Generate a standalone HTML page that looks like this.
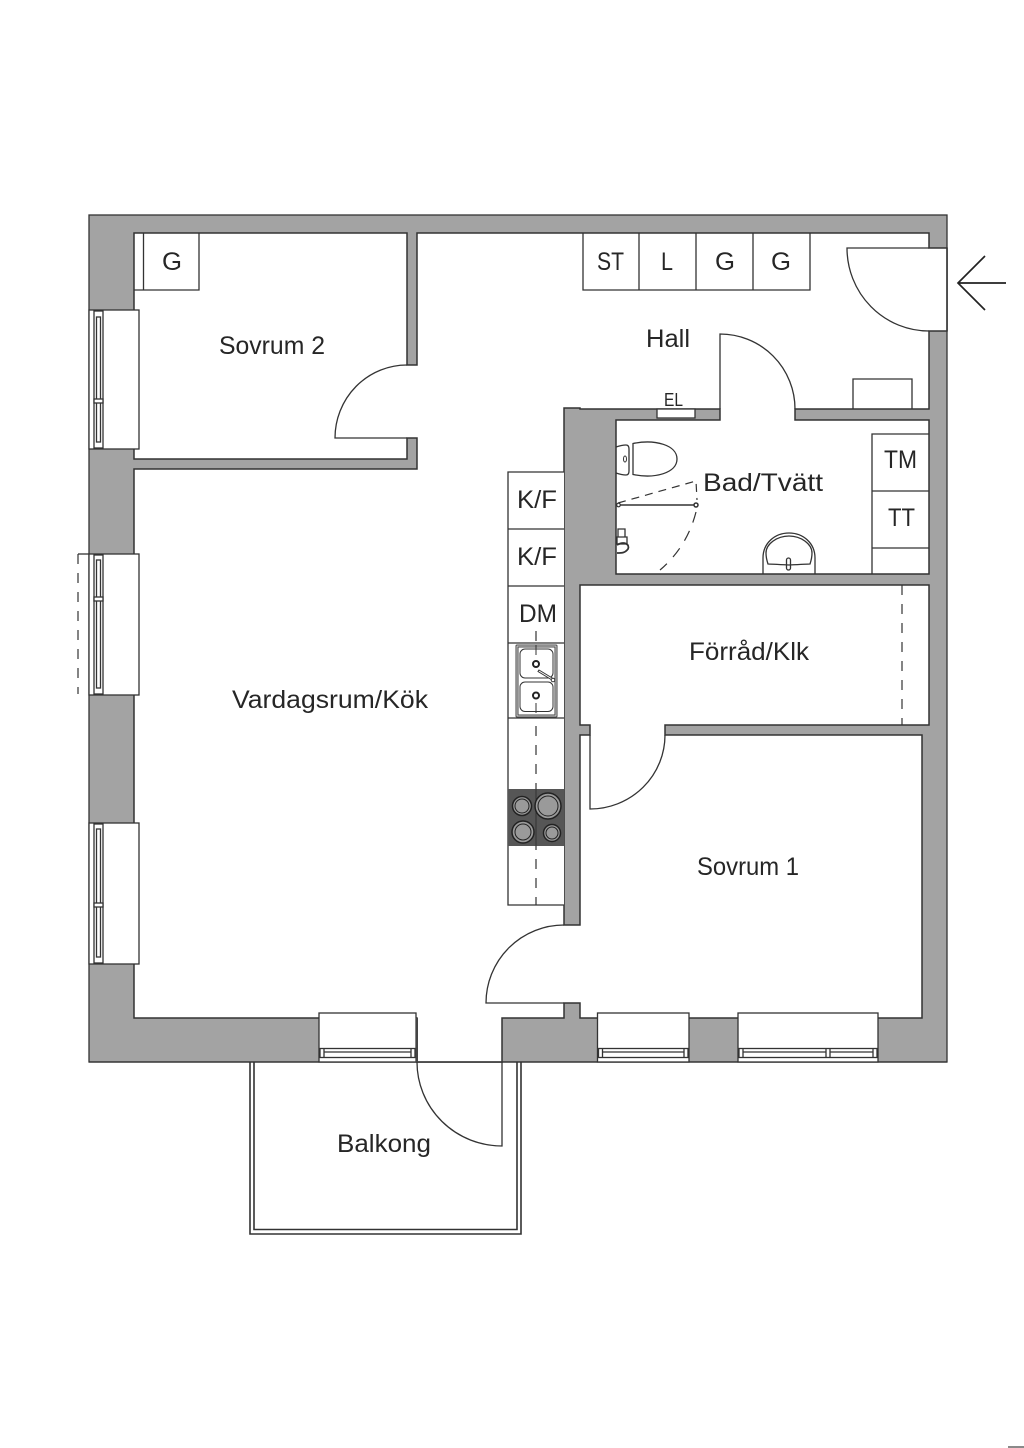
<!DOCTYPE html>
<html lang="sv">
<head>
<meta charset="utf-8">
<title>Planritning</title>
<style>
html,body{margin:0;padding:0;background:#fff}
svg{display:block;position:absolute;left:0;top:0}
text{font-family:"Liberation Sans",sans-serif;font-size:25px;fill:#262626}
.l{fill:none;stroke:#333;stroke-width:1.3}
.w{fill:#fff;stroke:#333;stroke-width:1.3}
.d{fill:none;stroke:#333;stroke-width:1.2;stroke-dasharray:10 9}
</style>
</head>
<body>
<svg width="1024" height="1448" viewBox="0 0 1024 1448" xmlns="http://www.w3.org/2000/svg">
<rect width="1024" height="1448" fill="#fff"/>

<!-- Balcony -->
<path class="l" style="stroke-width:1.6" d="M250,1062V1234H521V1062M254,1062V1229.500H517V1062"/>

<!-- Walls -->
<rect x="89" y="215" width="858" height="847" fill="#a3a3a3" stroke="#333" stroke-width="1.300"/>

<!-- Rooms (single connected floor region) -->
<path fill="#fff" stroke="#333" stroke-width="1.500" stroke-linejoin="miter" d="M417,233H929V248H947V331H929V409H795V420H929V574H616V420H720V409H580V408H564V925H580V735H590V725H580V585H929V725H665V735H922V1018H580V1003H564V1018H502V1062H417V1018H134V469H417V438H407V459H134V233H407V365H417Z"/>
<line x1="89" y1="1062" x2="947" y2="1062" stroke="#333" stroke-width="1.300"/>

<!-- Left windows -->
<g>
<rect class="w" x="89" y="310" width="50" height="139"/>
<rect class="l" x="94" y="311" width="9" height="137"/>
<rect class="l" x="96.500" y="317" width="4" height="125"/>
<rect class="w" x="94" y="399" width="9" height="4"/>
<rect class="w" x="89" y="554" width="50" height="141"/>
<rect class="l" x="94" y="555" width="9" height="139"/>
<rect class="l" x="96.500" y="560" width="4" height="128"/>
<rect class="w" x="94" y="597" width="9" height="4"/>
<rect class="w" x="89" y="823" width="50" height="141"/>
<rect class="l" x="94" y="824" width="9" height="139"/>
<rect class="l" x="96.500" y="829" width="4" height="128"/>
<rect class="w" x="94" y="903" width="9" height="4"/>
</g>
<path class="d" d="M78,554V694"/>
<path class="l" d="M78,554H89"/>

<!-- Bottom windows -->
<g>
<rect class="w" x="319" y="1013" width="97" height="49"/>
<rect class="l" x="320" y="1048.500" width="95" height="9"/>
<path class="l" d="M324,1048.500V1057.500M411,1048.500V1057.500M324,1052H411"/>
<rect x="415.500" y="1018" width="2.500" height="44" fill="#444"/>
<rect class="w" x="597.500" y="1013" width="91.500" height="49"/>
<rect class="l" x="598.500" y="1048.500" width="89.500" height="9"/>
<path class="l" d="M602.500,1048.500V1057.500M684,1048.500V1057.500M602.500,1052H684"/>
<rect class="w" x="738" y="1013" width="140" height="49"/>
<rect class="l" x="739" y="1048.500" width="138" height="9"/>
<path class="l" d="M743,1048.500V1057.500M873,1048.500V1057.500M826,1048.500V1057.500M830,1048.500V1057.500M743,1052H826M830,1052H873"/>
</g>

<!-- Doors -->
<path class="l" d="M407,365A72,73 0 0 0 335,438H407"/>
<path class="l" d="M720,409V334A75,75 0 0 1 795,409"/>
<path class="l" d="M929,331A82,83 0 0 1 847,248H929"/>
<path class="l" d="M947,248V331"/>
<path class="l" d="M590,735V809A75,74 0 0 0 665,735"/>
<path class="l" d="M564,925A78,78 0 0 0 486,1003H564"/>
<path class="l" d="M417,1062A85,84 0 0 0 502,1146V1062"/>

<!-- Entry arrow -->
<path fill="none" stroke="#222" stroke-width="1.700" d="M985,256L958,283L985,310M958,283H1006"/>

<!-- Sovrum 2 wardrobe -->
<path class="l" d="M143.500,233V290M134,290H199V233"/>

<!-- Hall wardrobes and box -->
<path class="l" d="M583,233V290H810V233M639,233V290M696,233V290M753,233V290"/>
<path class="l" d="M853,409V379H912V409"/>

<!-- EL -->
<rect class="w" x="657" y="409" width="38" height="9"/>

<!-- Bathroom fittings -->
<path class="l" d="M872,574V434H929M872,491H929M872,548H929"/>
<path class="l" d="M616,447Q622,445 626,445Q629,445 629,449V471Q629,475 626,475Q622,475 616,473"/>
<path class="l" d="M633,443.500C655,439 677,445 677,459C677,473 655,479 633,474.500Z"/>
<ellipse cx="625" cy="459" rx="1.500" ry="3" fill="none" stroke="#333" stroke-width="1"/>
<line x1="618" y1="505" x2="696" y2="505" stroke="#333" stroke-width="1.600"/>
<circle cx="618.500" cy="505" r="1.800" fill="#fff" stroke="#333" stroke-width="1.200"/>
<circle cx="696" cy="505" r="2" fill="#fff" stroke="#333" stroke-width="1.500"/>
<path fill="none" stroke="#333" stroke-width="1.200" stroke-dasharray="8 6" d="M618,503L696,481L697,500"/>
<path fill="none" stroke="#333" stroke-width="1.200" stroke-dasharray="11 9" d="M696,512Q687,547 660,570"/>
<path class="l" d="M618,529H625V537H618ZM617,537H627V544H617Z"/>
<path class="l" style="stroke-width:1.800" d="M617,545C624,541 630,544 628,549C625,553 622,553 617,553"/>
<path class="l" d="M763,574V558C763,543 775,533 789,533C803,533 815,543 815,558V574"/>
<path class="l" d="M768,564Q766,558 766,553C766,544 777,536 789,536C801,536 812,544 812,553Q812,558 810,564Q808,564 789,565Q770,564 768,564Z"/>
<rect class="l" x="786.500" y="558" width="4" height="12" rx="2"/>

<!-- Storage dashed -->
<path class="d" d="M902,585V725"/>

<!-- Kitchen -->
<path class="w" d="M564,472H508V905H564"/>
<path class="l" d="M508,529H564M508,586H564M508,643H564M508,718H564"/>
<path class="d" d="M536,631V905"/>
<rect x="508" y="789" width="56" height="57" fill="#565656"/>
<path stroke="#333" stroke-width="1" d="M536,789V846"/>
<g fill="#9a9a9a" stroke="#222" stroke-width="1.500">
<circle cx="522" cy="806" r="9.500"/>
<circle cx="548" cy="806" r="13"/>
<circle cx="523" cy="832" r="11"/>
<circle cx="552" cy="833" r="8.500"/>
</g>
<g fill="none" stroke="#222" stroke-width="1">
<circle cx="548" cy="806" r="10"/>
<circle cx="522" cy="806" r="7"/>
<circle cx="523" cy="832" r="8"/>
<circle cx="552" cy="833" r="6"/>
</g>
<rect x="516" y="645" width="41" height="72" fill="#d8d8d8" stroke="#444" stroke-width="1" rx="1"/>
<rect x="518" y="647" width="37" height="68" fill="#fff" stroke="#444" stroke-width="1"/>
<rect x="520" y="649" width="33" height="29" fill="#fff" stroke="#333" stroke-width="1" rx="5"/>
<rect x="520" y="682" width="33" height="29.500" fill="#fff" stroke="#333" stroke-width="1" rx="5"/>
<path class="d" style="stroke-width:1" d="M536,645V656M536,703V717"/>
<circle cx="536" cy="664" r="3" fill="#fff" stroke="#222" stroke-width="2"/>
<circle cx="536" cy="695.500" r="3" fill="#fff" stroke="#222" stroke-width="2"/>
<path fill="#fff" stroke="#333" stroke-width="1" d="M538,671.500L539,670L553,678.500L552,680Z"/>
<circle cx="553" cy="680" r="1.800" fill="#fff" stroke="#333" stroke-width="1"/>

<!-- Labels -->
<text x="219" y="354" textLength="106" lengthAdjust="spacingAndGlyphs">Sovrum 2</text>
<text x="646" y="347" textLength="44" lengthAdjust="spacingAndGlyphs">Hall</text>
<text x="232" y="708" textLength="196" lengthAdjust="spacingAndGlyphs">Vardagsrum/Kök</text>
<text x="697" y="875" textLength="102" lengthAdjust="spacingAndGlyphs">Sovrum 1</text>
<text x="337" y="1152" textLength="94" lengthAdjust="spacingAndGlyphs">Balkong</text>
<text x="689" y="660" textLength="120" lengthAdjust="spacingAndGlyphs">Förråd/Klk</text>
<text x="703" y="491" textLength="120" lengthAdjust="spacingAndGlyphs">Bad/Tvätt</text>
<text x="162" y="270" textLength="20" lengthAdjust="spacingAndGlyphs">G</text>
<text x="597" y="270" textLength="27" lengthAdjust="spacingAndGlyphs">ST</text>
<text x="661" y="270" textLength="12" lengthAdjust="spacingAndGlyphs">L</text>
<text x="715" y="270" textLength="20" lengthAdjust="spacingAndGlyphs">G</text>
<text x="771" y="270" textLength="20" lengthAdjust="spacingAndGlyphs">G</text>
<text x="884" y="468" textLength="33" lengthAdjust="spacingAndGlyphs">TM</text>
<text x="888" y="526" textLength="27" lengthAdjust="spacingAndGlyphs">TT</text>
<text x="517" y="508" textLength="40" lengthAdjust="spacingAndGlyphs">K/F</text>
<text x="517" y="565" textLength="40" lengthAdjust="spacingAndGlyphs">K/F</text>
<text x="519" y="622" textLength="38" lengthAdjust="spacingAndGlyphs">DM</text>
<text x="664" y="406" textLength="19" lengthAdjust="spacingAndGlyphs" style="font-size:18px">EL</text>

<!-- Corner mark -->
<rect x="1008" y="1446" width="16" height="2" fill="#8a8a8a"/>
</svg>
</body>
</html>
